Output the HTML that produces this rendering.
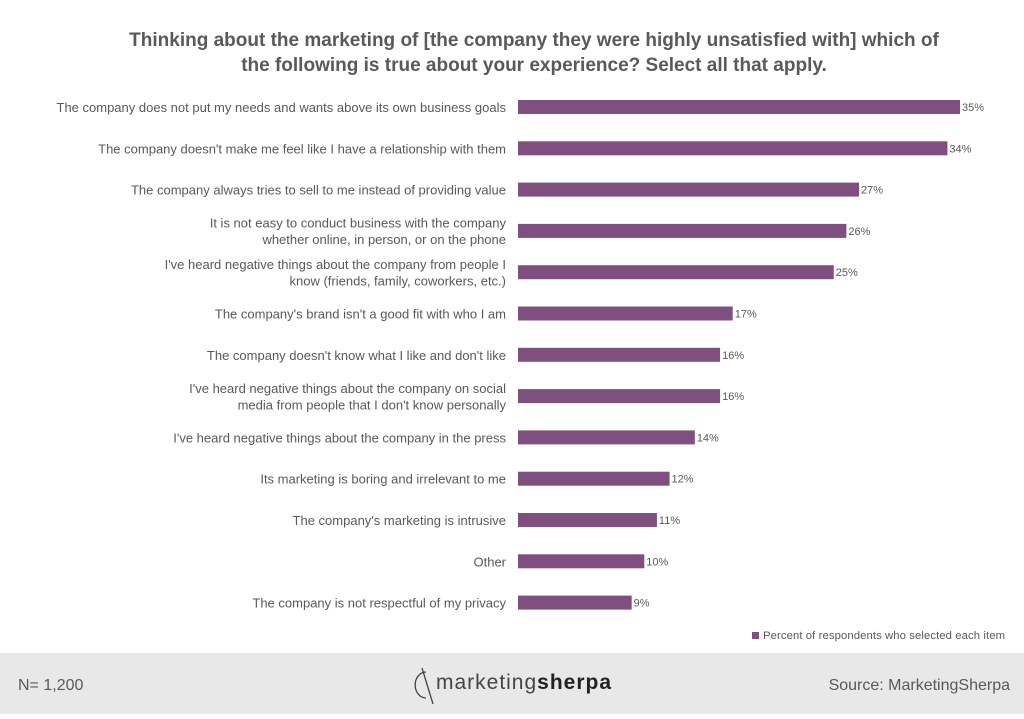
<!DOCTYPE html>
<html><head><meta charset="utf-8"><style>
body{margin:0;width:1024px;height:714px;overflow:hidden;background:#fff;font-family:"Liberation Sans",sans-serif}
</style></head><body>
<svg width="1024" height="714" id="svg" xmlns="http://www.w3.org/2000/svg">
<text x="534" y="46" text-anchor="middle" font-size="19" font-weight="bold" fill="#595959">Thinking about the marketing of [the company they were highly unsatisfied with] which of</text>
<text x="534" y="71" text-anchor="middle" font-size="19" font-weight="bold" fill="#595959">the following is true about your experience? Select all that apply.</text>
<g id="bars"></g>
<rect x="752" y="632" width="7" height="7" fill="#7f4f7f"/>
<text x="763" y="639" font-size="11.3" fill="#595959" textLength="242">Percent of respondents who selected each item</text>
<rect x="0" y="653" width="1024" height="61" fill="#e8e8e8"/>
<text x="18" y="690" font-size="16" fill="#595959">N= 1,200</text>
<g>
<path d="M422 668 L433 704 M426 672 A10 12 0 1 0 426 698" stroke="#444" stroke-width="1.3" fill="none"/>
<text x="436" y="689" font-size="21" fill="#444" textLength="175">marketing<tspan font-weight="bold" fill="#222">sherpa</tspan></text>
</g>
<text x="1010" y="690" text-anchor="end" font-size="16" fill="#595959">Source: MarketingSherpa</text>
</svg>
<script>
const categories=[
["The company does not put my needs and wants above its own business goals"],
["The company doesn't make me feel like I have a relationship with them"],
["The company always tries to sell to me instead of providing value"],
["It is not easy to conduct business with the company","whether online, in person, or on the phone"],
["I've heard negative things about the company  from people I","know (friends, family, coworkers, etc.)"],
["The company's brand isn't a good fit with who I am"],
["The company doesn't know what I like and don't like"],
["I've heard negative things about the company on social","media from people that I don't know personally"],
["I've heard negative things about the company in the press"],
["Its marketing is boring and irrelevant to me"],
["The company's marketing is intrusive"],
["Other"],
["The company is not respectful of my privacy"]];
const values=[35,34,27,26,25,17,16,16,14,12,11,10,9];
const valueLabels=["35%","34%","27%","26%","25%","17%","16%","16%","14%","12%","11%","10%","9%"];
const NS="http://www.w3.org/2000/svg";
const x=v=>518+v*12.63;
const y=i=>107+i*41.3;
const g=document.getElementById('bars');
function mk(t,a){const e=document.createElementNS(NS,t);for(const k in a)e.setAttribute(k,a[k]);g.appendChild(e);return e;}
values.forEach((v,i)=>{
 const r=mk('rect',{x:518,y:y(i)-7,width:x(v)-518,height:14,fill:'#7f4f7f'});
 
 
 const t=mk('text',{x:x(v)+2,y:y(i)+4,'font-size':11,fill:'#595959'});
 t.textContent=valueLabels[i];
 
 
 const lines=categories[i];
 lines.forEach((s,j)=>{
  const c=mk('text',{x:506,y:y(i)+5+(j-(lines.length-1)/2)*16.5,'text-anchor':'end','font-size':13,fill:'#595959'});
  c.textContent=s;
  
  
 });
});
</script>
</body></html>
